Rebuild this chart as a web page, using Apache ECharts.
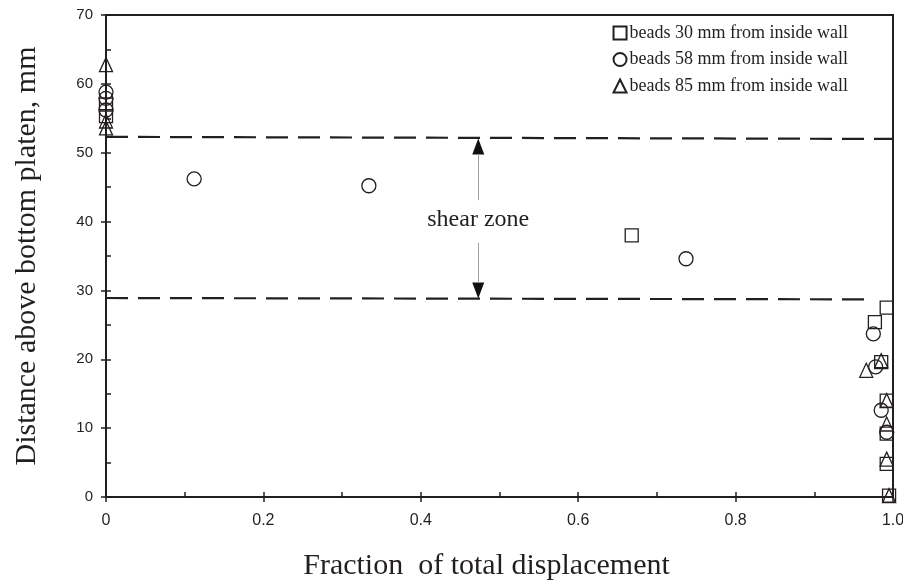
<!DOCTYPE html>
<html>
<head>
	<meta charset="UTF-8">
	<title>shear zone</title>
	<style>
		html, body { margin: 0; padding: 0; background: #fff; }
		#display { width: 903px; height: 585px; }
	</style>
</head>
<body>
	<div id="display"></div>
<script src="https://cdn.jsdelivr.net/npm/echarts@6/dist/echarts.min.js"></script>
<script>
	// fraction of total displacement / distance above bottom platen (mm)
	var beads30 = [
		[0, 57.0], [0, 55.3], [0.668, 38.0], [0.992, 27.5], [0.977, 25.4],
		[0.985, 19.6], [0.992, 14.0], [0.992, 9.2], [0.992, 4.8], [0.995, 0.2]
	];
	var beads58 = [
		[0, 58.8], [0, 57.9], [0, 56.2], [0.112, 46.2], [0.334, 45.2], [0.737, 34.6],
		[0.975, 23.7], [0.978, 18.9], [0.985, 12.6], [0.992, 9.4]
	];
	var beads85 = [
		[0, 62.8], [0, 54.6], [0, 53.6], [0.966, 18.4], [0.985, 19.8],
		[0.992, 14.0], [0.992, 10.6], [0.992, 5.5], [0.995, 0.2]
	];
	var seriesNames = [
		'beads 30 mm from inside wall',
		'beads 58 mm from inside wall',
		'beads 85 mm from inside wall'
	];

	// shear zone bounds (dashed) and the arrows between them
	var upperBound = [[0, 52.3], [1, 52.0]];
	var lowerBound = [[0, 28.9], [0.97, 28.7]];
	var arrowX = 0.473;
	var arrowUp = [43.1, 49.8, 50.9];   // line start, line end, head centre
	var arrowDown = [36.9, 31.1, 30.0];
	var labelPos = [0.473, 40.2];

	var ink = '#231f20';
	var hollow = { color: 'rgba(0,0,0,0)', borderColor: ink, borderWidth: 1.3, opacity: 1 };

	var option = {
		animation: false,
		backgroundColor: '#fff',
		grid: {
			left: 106, right: 10, top: 15, bottom: 88,
			outerBoundsMode: 'none',
			show: true, borderColor: ink, borderWidth: 2
		},
		legend: {
			data: seriesNames,
			orient: 'vertical',
			right: 50, top: 19,
			itemGap: 8.5,
			itemWidth: 13, itemHeight: 13,
			textStyle: { fontFamily: 'Liberation Serif', fontSize: 18, color: ink, padding: [0, 0, 0, -2] }
		},
		xAxis: [{
			type: 'value', min: 0, max: 1, interval: 0.2,
			name: 'Fraction  of total displacement', nameLocation: 'middle', nameGap: 54,
			nameTextStyle: { fontFamily: 'Liberation Serif', fontSize: 30, color: ink, padding: [0, 26, 0, 0] },
			axisLine: { lineStyle: { color: ink, width: 2 } },
			axisTick: { show: true, length: 5, lineStyle: { color: ink, width: 1.5 } },
			axisLabel: {
				margin: 16, fontFamily: 'Liberation Sans', fontSize: 16, color: ink,
				formatter: function (v) { return v === 0 ? '0' : v.toFixed(1); }
			},
			splitLine: { show: false }
		}, {
			type: 'value', min: 0, max: 1, interval: 0.1, position: 'bottom',
			axisLine: { show: false },
			axisTick: { show: true, inside: true, length: 5, lineStyle: { color: ink, width: 1.5 } },
			axisLabel: { show: false }, splitLine: { show: false }
		}],
		yAxis: [{
			type: 'value', min: 0, max: 70, interval: 10,
			name: 'Distance above bottom platen, mm', nameLocation: 'middle', nameGap: 64,
			nameTextStyle: { fontFamily: 'Liberation Serif', fontSize: 30, color: ink },
			axisLine: { lineStyle: { color: ink, width: 2 } },
			axisTick: { show: true, length: 5, lineStyle: { color: ink, width: 1.5 } },
			axisLabel: { margin: 13, fontFamily: 'Liberation Sans', fontSize: 15, color: ink },
			splitLine: { show: false }
		}, {
			type: 'value', min: 0, max: 70, interval: 5, position: 'left',
			axisLine: { show: false },
			axisTick: { show: true, inside: true, length: 5, lineStyle: { color: ink, width: 1.5 } },
			axisLabel: { show: false }, splitLine: { show: false }
		}],
		series: [{
			name: seriesNames[0], type: 'scatter', symbol: 'rect', symbolSize: 13,
			data: beads30, itemStyle: hollow, z: 3
		}, {
			name: seriesNames[1], type: 'scatter', symbol: 'circle', symbolSize: 14,
			data: beads58, itemStyle: hollow, z: 3
		}, {
			name: seriesNames[2], type: 'scatter', symbol: 'triangle', symbolSize: [13, 14],
			data: beads85, itemStyle: hollow, z: 3
		}, {
			name: 'annotations', type: 'scatter',
			data: [
				{ value: [arrowX, arrowUp[2]], symbol: 'triangle', symbolSize: [12, 16] },
				{ value: [arrowX, arrowDown[2]], symbol: 'triangle', symbolSize: [12, 16], symbolRotate: 180 },
				{ value: labelPos, symbolSize: 0,
					label: { show: true, position: 'inside', formatter: 'shear zone',
						fontFamily: 'Liberation Serif', fontSize: 24, color: ink } }
			],
			itemStyle: { color: '#111', opacity: 1 },
			z: 2,
			markLine: {
				silent: true, symbol: 'none', animation: false,
				label: { show: false },
				data: [
					[{ coord: upperBound[0], lineStyle: { color: ink, width: 2.2, type: [22, 10] } },
					 { coord: upperBound[1] }],
					[{ coord: lowerBound[0], lineStyle: { color: ink, width: 2.2, type: [22, 10] } },
					 { coord: lowerBound[1] }],
					[{ coord: [arrowX, arrowUp[0]], lineStyle: { color: '#a0a0a0', width: 1, type: 'solid' } },
					 { coord: [arrowX, arrowUp[1]] }],
					[{ coord: [arrowX, arrowDown[0]], lineStyle: { color: '#a0a0a0', width: 1, type: 'solid' } },
					 { coord: [arrowX, arrowDown[1]] }]
				]
			}
		}]
	};

	var myChart = echarts.init(document.getElementById('display'));
	myChart.setOption(option);
</script>
</body>
</html>
